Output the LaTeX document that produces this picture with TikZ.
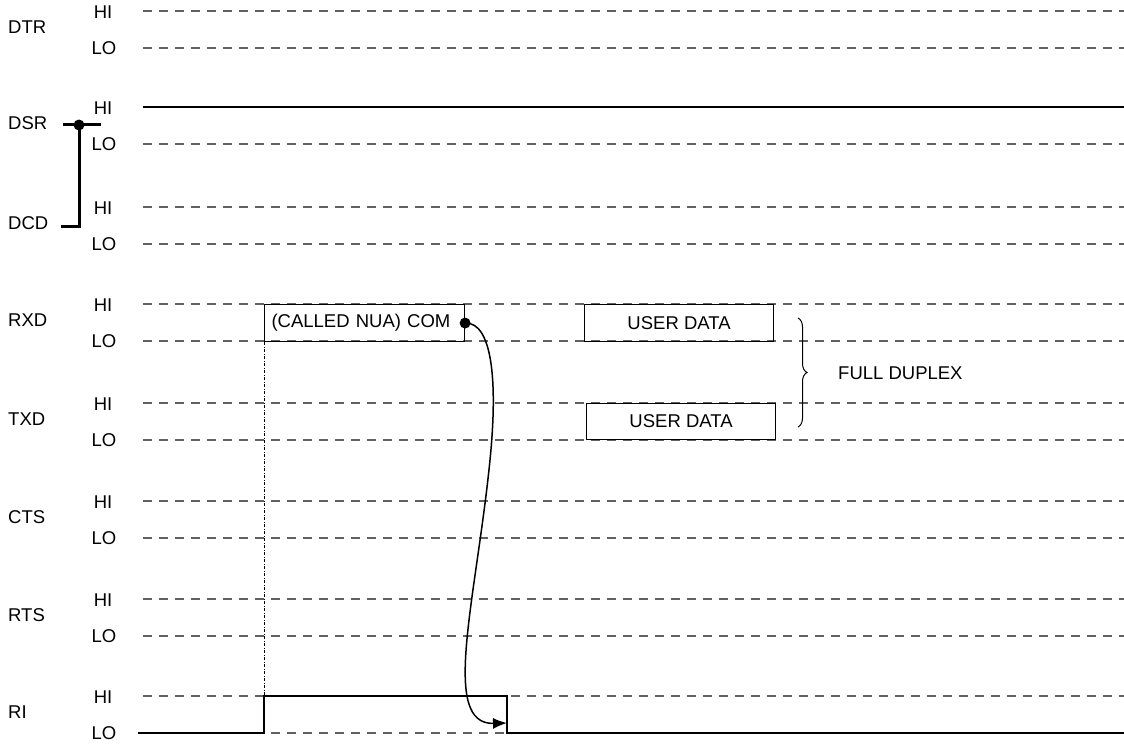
\documentclass[tikz,border=0pt]{standalone}
\usepackage{fontspec}
\setmainfont{Liberation Sans}
\usetikzlibrary{calc,arrows.meta,decorations.pathreplacing}

\tikzset{
  every node/.style={inner sep=0pt, font=\fontsize{18.5pt}{22pt}\selectfont},
  level/.style={black!62, line width=1.4pt, dash pattern=on 9pt off 7pt},
  wave/.style={black, line width=1.7pt},
  bus/.style={black, line width=3pt},
  databox/.style={draw, line width=1.1pt, minimum height=37pt},
}

\begin{document}
\begin{tikzpicture}[x=1pt,y=-1pt]

            \useasboundingbox (0,0) rectangle (1124,744);

            \foreach \sig/\hy in {DTR/11,DSR/107,DCD/207,RXD/304,TXD/403,CTS/501,RTS/599,RI/696}{
              \node (\sig) [anchor=west] at (8,\hy+16) {\sig};
              \node (\sig-hi) at (103,\hy+1) {HI};
              \node (\sig-lo) at (104,\hy+37) {LO};
              \coordinate (\sig-h0) at (143,\hy);
              \coordinate (\sig-h1) at (1124,\hy);
              \coordinate (\sig-l0) at (143,\hy+37);
              \coordinate (\sig-l1) at (1124,\hy+37);
              \draw[level] (\sig-h0) -- (\sig-h1);
              \draw[level] (\sig-l0) -- (\sig-l1);
            }

            \draw[wave] (DSR-h0) -- (DSR-h1);

            \coordinate (dsr-j) at (79,125);
            \draw[bus] ($(DSR.east)+(16,1)$) -- ($(DSR.east)+(54,1)$);
            \draw[bus] (dsr-j) |- ($(DCD.east)+(13,3)$);
            \fill (dsr-j) circle (5.5pt);

            \node (called) [databox, anchor=north west, minimum width=200pt, text width=186pt, inner xsep=7pt, align=left] at (264,304) {(CALLED NUA) COM};
            \node (rxd-data) [databox, anchor=north west, minimum width=189pt] at (584,304) {USER DATA};
            \node (txd-data) [databox, anchor=north west, minimum width=189pt, minimum height=36pt] at (586,403) {USER DATA};

            \coordinate (ri-start) at (138,733);
            \coordinate (ri-up) at (264,696);
            \coordinate (ri-down) at (507,696);
            \coordinate (ri-end) at (1124,733);
            \draw[wave] (ri-start) -| (ri-up) -- (ri-down) |- (ri-end);

            \draw[black, line width=1pt, dash pattern=on 3pt off 1.5pt on 1pt off 1.5pt] (called.south west) -- (ri-up);

            \coordinate (ri-hit) at (507,723);
            \fill (called.east) circle (5.5pt);
            \draw[line width=1.5pt, -{Latex[length=14pt,width=11pt]}] (called.east) .. controls (492,322) and (498,380) .. (490,460) .. controls (476,600) and (440,725) .. (ri-hit);

            \coordinate (br-top) at (798,318);
            \coordinate (br-bot) at (798,427);
            \draw[line width=1pt, decorate, decoration={brace, amplitude=9pt}] (br-top) -- (br-bot);
            \node (duplex) [anchor=west] at (838,373) {FULL DUPLEX};

        \end{tikzpicture}
\end{document}
